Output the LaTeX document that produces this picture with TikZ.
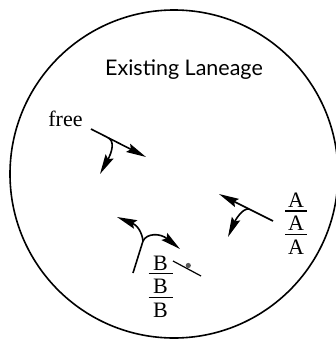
\documentclass[tikz,border=0pt]{standalone}
\usepackage{fontspec}
\setmainfont{Liberation Serif}
\newfontfamily\titlefont{Lato}
\usetikzlibrary{arrows.meta,calc}
\begin{document}
\begin{tikzpicture}[x=1pt,y=-1pt,
  line width=1.6pt,
  arr/.style={-{Stealth[length=20pt,width=9pt,inset=3pt]}},
  lbl/.style={inner sep=0pt,anchor=base,font=\fontsize{22}{22}\selectfont},
  bar/.style={line width=1.5pt}]
\useasboundingbox (0,0) rectangle (336,340);
\clip (0,0) rectangle (336,340);
\fill[white] (0,0) rectangle (336,340);
% boundary
\coordinate (c) at (174,174);
\draw[line width=1.6pt] (c) circle[radius=164];
\node[inner sep=0pt,anchor=base,font=\titlefont\fontsize{21.5}{21.5}\selectfont] (title) at (184,75) {Existing Laneage};
% free
\node[lbl] (free) at (65.5,126) {free};
\coordinate (f0) at (91,129);
\coordinate (f1) at (146,157);
\coordinate (fb) at (108,137.7);
\coordinate (f2) at (100,174);
\draw[arr] (f0) -- (f1);
\draw[arr] (fb) .. controls (115,141) and (112,152) .. (f2);
% A group
\coordinate (a0) at (273,221);
\coordinate (a1) at (219,194);
\coordinate (ab) at (249,209);
\coordinate (a2) at (228,237);
\draw[arr] (a0) -- (a1);
\draw[arr] (ab) .. controls (242,208) and (235,221) .. (a2);
\node[lbl] (A1) at (296,207) {A};
\node[lbl] (A2) at (296,230.5) {A};
\node[lbl] (A3) at (296,254) {A};
\draw[bar] ($(A1.base)+(-11,4)$) -- ($(A1.base)+(11,4)$);
\draw[bar] ($(A2.base)+(-11,4)$) -- ($(A2.base)+(11,4)$);
% B group
\coordinate (b0) at (133,273);
\coordinate (bj) at (143,241);
\coordinate (b1) at (117,217);
\coordinate (b2) at (180,249);
\draw (b0) -- (bj);
\draw[arr] (bj) .. controls (142,232) and (137,225) .. (b1);
\draw[arr] (bj) .. controls (147,233) and (160,233) .. (b2);
\coordinate (s0) at (173,261);
\coordinate (s1) at (201,276);
\draw[line width=1.2pt] (s0) -- (s1);
\fill[black!65] (188.3,265.5) circle[radius=2.6];
\node[lbl] (B1) at (160.5,270) {B};
\node[lbl] (B2) at (160.5,293.5) {B};
\node[lbl] (B3) at (160.5,317) {B};
\draw[bar] ($(B1.base)+(-12,3.5)$) -- ($(B1.base)+(12,3.5)$);
\draw[bar] ($(B2.base)+(-12,4)$) -- ($(B2.base)+(12,4)$);
\end{tikzpicture}
\end{document}
